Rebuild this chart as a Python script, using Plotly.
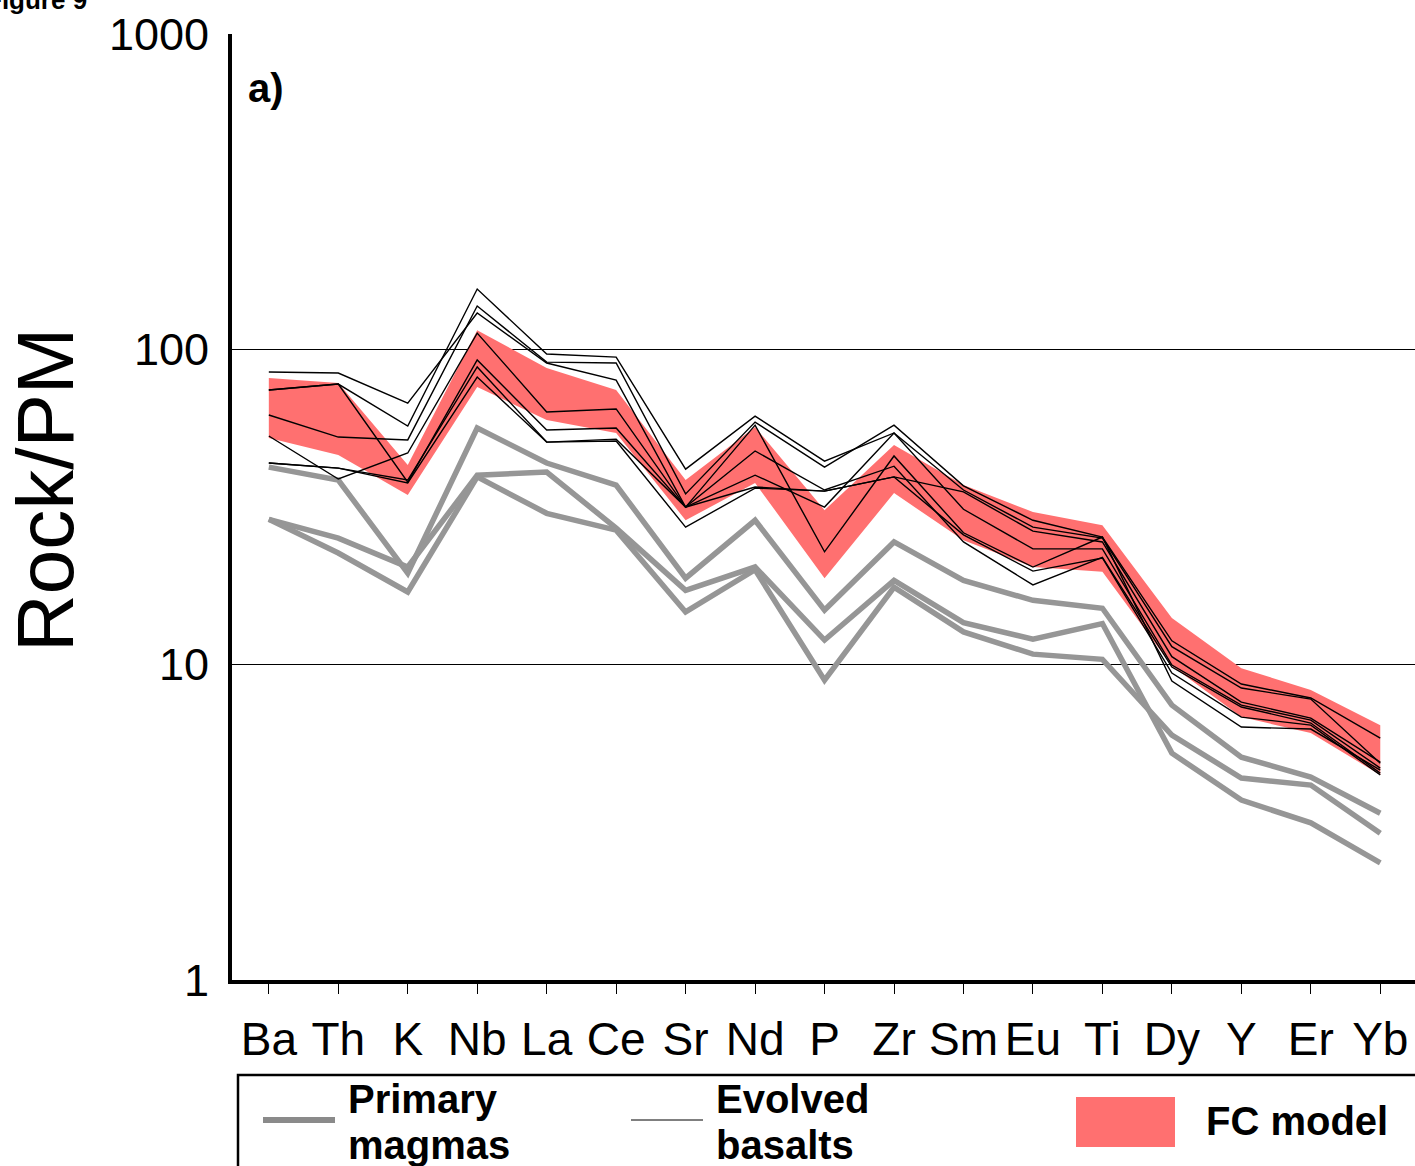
import plotly.graph_objects as go

# ---------------- data ----------------
elements = ["Ba", "Th", "K", "Nb", "La", "Ce", "Sr", "Nd", "P", "Zr",
            "Sm", "Eu", "Ti", "Dy", "Y", "Er", "Yb"]

primary_1 = [42.3, 38.5, 19.5, 56.3, 43.6, 37.1, 18.8, 28.7, 14.9, 24.5, 18.5, 16.0, 15.1, 7.44, 5.09, 4.40, 3.38]
primary_2 = [28.9, 25.2, 20.4, 39.9, 40.8, 27.1, 17.2, 20.4, 11.97, 18.5, 13.6, 12.05, 13.5, 5.24, 3.72, 3.15, 2.35]
primary_3 = [28.9, 22.6, 17.0, 39.4, 30.2, 26.7, 14.7, 20.0, 8.93, 17.6, 12.7, 10.8, 10.4, 5.98, 4.37, 4.15, 2.92]

evolved_1 = [84.7, 84.1, 67.5, 130.4, 90.5, 79.9, 31.6, 57.5, 22.8, 45.9, 26.2, 20.4, 25.4, 8.87, 6.34, 6.25, 4.63]
evolved_2 = [74.3, 77.6, 57.1, 155.3, 96.6, 94.5, 41.7, 61.4, 44.2, 54.3, 35.8, 27.3, 25.2, 11.4, 8.43, 7.78, 4.87]
evolved_3 = [74.3, 77.6, 37.9, 92.5, 55.5, 56.3, 31.6, 39.9, 31.6, 54.3, 31.1, 23.3, 23.3, 9.97, 7.44, 6.67, 4.70]
evolved_4 = [61.9, 52.7, 51.6, 137.2, 91.1, 90.5, 34.8, 58.8, 42.3, 57.5, 36.9, 28.7, 25.4, 11.9, 8.68, 7.84, 5.85]
evolved_5 = [53.1, 38.8, 46.9, 112.6, 63.3, 64.7, 31.6, 47.6, 35.8, 42.6, 24.5, 17.9, 21.9, 9.83, 7.34, 6.53, 4.53]
evolved_6 = [43.6, 42.0, 38.5, 87.9, 50.8, 51.9, 31.6, 36.6, 35.5, 39.4, 35.3, 26.5, 24.5, 10.6, 7.61, 6.77, 4.91]
evolved_7 = [43.6, 42.0, 37.7, 81.7, 50.8, 51.2, 27.3, 36.3, 35.5, 39.4, 25.8, 19.8, 21.8, 9.41, 6.82, 6.43, 4.47]

fc_upper = [81.1, 78.2, 43.0, 115.0, 87.2, 74.3, 38.5, 56.7, 30.9, 49.7, 37.1, 30.5, 27.7, 14.05, 9.75, 8.31, 6.43]
fc_lower = [52.3, 46.2, 34.5, 75.9, 59.7, 54.3, 28.7, 37.7, 18.8, 35.0, 24.8, 20.4, 19.7, 9.9, 6.82, 6.07, 4.47]

y_tick_vals = [1, 10, 100, 1000]
y_tick_text = ["1", "10", "100", "1000"]

primaries = [primary_1, primary_2, primary_3]
evolved = [evolved_1, evolved_2, evolved_3, evolved_4, evolved_5, evolved_6, evolved_7]

# ---------------- figure geometry ----------------
W, H = 1415, 1166
L, R, T, B = 232, 1415, 34, 980
RED = "#FF7070"
GRAY = "#969696"
FONT = "Liberation Sans, Arial, sans-serif"


def px(x):
    return (x - L) / (R - L)


def py(y):
    return (B - y) / (B - T)


idx = list(range(len(elements)))

fig = go.Figure()

# FC model band
fig.add_trace(go.Scatter(
    x=idx + idx[::-1], y=fc_upper + fc_lower[::-1],
    fill="toself", fillcolor=RED, mode="lines",
    line=dict(width=0, color=RED), hoverinfo="skip", showlegend=False))

for p in primaries:
    fig.add_trace(go.Scatter(x=idx, y=p, mode="lines",
                             line=dict(color=GRAY, width=5.5),
                             showlegend=False))

for e in evolved:
    fig.add_trace(go.Scatter(x=idx, y=e, mode="lines",
                             line=dict(color="black", width=1.4),
                             showlegend=False))

fig.update_xaxes(
    range=[-0.53, 16.5], tickmode="array", tickvals=idx, ticktext=elements,
    showline=True, linewidth=4, linecolor="black", mirror=False,
    ticks="outside", ticklen=10, tickwidth=1, tickcolor="black",
    showgrid=False, zeroline=False,
    tickfont=dict(family=FONT, size=46, color="black"),
    ticklabelstandoff=6,
)
fig.update_yaxes(
    type="log", range=[0, 3], tickmode="array",
    tickvals=y_tick_vals, ticktext=y_tick_text,
    showline=True, linewidth=4, linecolor="black",
    showgrid=True, gridcolor="black", gridwidth=1.2,
    ticks="", zeroline=False,
    tickfont=dict(family=FONT, size=45, color="black"),
    ticklabelstandoff=10,
)

shapes = []
annotations = []

# Legend box
shapes.append(dict(type="rect", xref="paper", yref="paper",
                   x0=px(238), x1=px(1430), y0=py(1075), y1=py(1180),
                   line=dict(color="black", width=2.5), fillcolor="rgba(0,0,0,0)"))
shapes.append(dict(type="line", xref="paper", yref="paper",
                   x0=px(263), x1=px(335), y0=py(1120), y1=py(1120),
                   line=dict(color="#8a8a8a", width=6)))
shapes.append(dict(type="line", xref="paper", yref="paper",
                   x0=px(631), x1=px(703), y0=py(1120), y1=py(1120),
                   line=dict(color="black", width=1)))
shapes.append(dict(type="rect", xref="paper", yref="paper",
                   x0=px(1076), x1=px(1175), y0=py(1147), y1=py(1097),
                   line=dict(width=0), fillcolor=RED))


def label(text, x, y, size=40, bold=True, xanchor="left", yanchor="middle", angle=0):
    t = f"<b>{text}</b>" if bold else text
    annotations.append(dict(text=t, xref="paper", yref="paper", x=px(x), y=py(y),
                            xanchor=xanchor, yanchor=yanchor, showarrow=False,
                            textangle=angle,
                            font=dict(family=FONT, size=size, color="black")))


label("Primary", 346, 1099)
label("magmas", 346, 1145)
label("Evolved", 714, 1099)
label("basalts", 714, 1145)
label("FC model", 1204, 1121)
label("a)", 246, 88, size=40)
label("Rock/PM", 45, 490, size=80, bold=False, xanchor="center", angle=-90)
label("Figure 9", -16, 17, size=26, yanchor="bottom")

fig.update_layout(
    width=W, height=H,
    margin=dict(l=L, r=W - R, t=T, b=H - B),
    paper_bgcolor="white", plot_bgcolor="white",
    shapes=shapes, annotations=annotations,
    showlegend=False,
)

fig.write_html("out.html")
